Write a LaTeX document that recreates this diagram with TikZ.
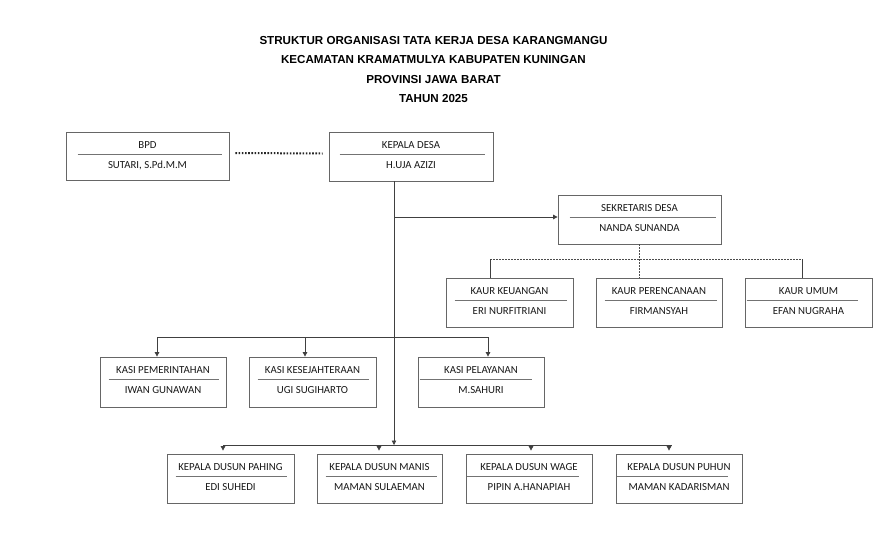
\documentclass[tikz,border=0pt]{standalone}
\usepackage{fontspec}
\setmainfont{Carlito}
\newfontfamily\titlefont{Liberation Sans}
\usetikzlibrary{arrows.meta,calc}
\newcommand\orgunit[9]{%
  \node[obox, minimum width={#4-#2}, minimum height={#5-#3}] (#1) at ({(#2+#4)/2},{(#3+#5)/2}) {};
  \node[otext] (#1-a) at ($(#1.north)+(0,16.5)$) {#8};
  \draw[sepline] ($(#1.north west)+(#6,23)$) -- ($(#1.north east)+(-#7,23)$);
  \node[otext] (#1-b) at ($(#1.north)+(0,36.5)$) {#9};
}
\begin{document}
\begin{tikzpicture}[x=1pt,y=-1pt,
  obox/.style={draw=black!60, line width=0.8pt, rectangle, inner sep=0pt},
  otext/.style={font=\fontsize{10.8}{12}\selectfont, text=black!90, inner sep=0pt, anchor=base},
  sepline/.style={draw=black!55, line width=0.8pt},
  conn/.style={draw=black!75, line width=0.8pt},
  arr/.style={conn, -{Triangle[length=4.5pt,width=4.5pt]}},
  dashln/.style={draw=black!70, line width=0.6pt, dash pattern=on 2pt off 1pt},
  dotln/.style={draw=black!85, line width=2pt, dash pattern=on 1.6pt off 1.6pt},
  ttl/.style={font=\titlefont\bfseries\fontsize{11.6}{13}\selectfont, text=black, inner sep=0pt, anchor=base}]
\useasboundingbox[fill=white] (0,0) rectangle (877,546);

% titles
\node[ttl] (t1) at (433.5,44) {STRUKTUR ORGANISASI TATA KERJA DESA KARANGMANGU};
\node[ttl] (t2) at (433.5,63.5) {KECAMATAN KRAMATMULYA KABUPATEN KUNINGAN};
\node[ttl] (t3) at (433.5,83) {PROVINSI JAWA BARAT};
\node[ttl] (t4) at (433.5,102) {TAHUN 2025};

% boxes
\orgunit{bpd}{66}{132}{229}{180}{12}{7}{BPD}{SUTARI, S.Pd.M.M}
\orgunit{kd}{329}{132}{493}{181}{11}{8}{KEPALA DESA}{H.UJA AZIZI}
\orgunit{sek}{558}{195}{721}{244}{12}{5}{SEKRETARIS DESA}{NANDA SUNANDA}
\orgunit{kk}{446}{278}{573}{327}{9}{6}{KAUR KEUANGAN}{ERI NURFITRIANI}
\orgunit{kp}{596}{278}{722}{327}{9}{5}{KAUR PERENCANAAN}{FIRMANSYAH}
\orgunit{ku}{745}{278}{872}{327}{2}{14}{KAUR UMUM}{EFAN NUGRAHA}
\orgunit{ks1}{100}{357}{226}{407}{9}{7}{KASI PEMERINTAHAN}{IWAN GUNAWAN}
\orgunit{ks2}{249}{357}{376}{407}{9}{7}{KASI KESEJAHTERAAN}{UGI SUGIHARTO}
\orgunit{ks3}{418}{357}{544}{407}{2}{12}{KASI PELAYANAN}{M.SAHURI}
\orgunit{d1}{167}{454}{294}{503}{9}{7}{KEPALA DUSUN PAHING}{EDI SUHEDI}
\orgunit{d2}{317}{454}{442}{503}{9}{5}{KEPALA DUSUN MANIS}{MAMAN SULAEMAN}
\orgunit{d3}{466}{454}{592}{503}{1}{13}{KEPALA DUSUN WAGE}{PIPIN A.HANAPIAH}
\orgunit{d4}{616}{454}{742}{503}{1}{14}{KEPALA DUSUN PUHUN}{MAMAN KADARISMAN}

% coordinates
\coordinate (tk) at (394,0);
\coordinate (dline) at (0,445);
\coordinate (a1) at (157,337);
\coordinate (a2) at (305,337);
\coordinate (a3) at (488,337);
\coordinate (b1) at (223,445);
\coordinate (b2) at (379,445);
\coordinate (b3) at (531,445);
\coordinate (b4) at (669,445);
\coordinate (b5) at (672,445);
\coordinate (c1) at (490,259);
\coordinate (c3) at (802,259);

% BPD - Kepala Desa
\draw[dotln] ($(bpd.east)+(6,-3)$) -- ($(kd.west)+(-6,-3)$);

% trunk
\draw[arr] (tk |- kd.south) -- (tk |- dline);
\draw[arr] ($(tk |- sek.west)+(0,-2.5)$) -- ($(sek.west)+(0,-2.5)$);

% sekretaris to kaur
\draw[dashln] (sek.south) -- (sek.south |- kp.north);
\draw[dashln] (c1) -- (c3);
\draw[conn, line width=0.6pt] (c1) -- (c1 |- kk.north);
\draw[conn, line width=0.6pt] (c3) -- (c3 |- ku.north);

% kasi row
\draw[conn] (a1) -- (a3);
\draw[arr] (a1) -- (a1 |- ks1.north);
\draw[arr] (a2) -- (a2 |- ks2.north);
\draw[arr] (a3) -- (a3 |- ks3.north);

% dusun row
\draw[conn] (b1) -- (b5);
\draw[arr, shorten >=3pt] (b1) -- (b1 |- d1.north);
\draw[arr, shorten >=3pt] (b2) -- (b2 |- d2.north);
\draw[arr, shorten >=3pt] (b3) -- (b3 |- d3.north);
\draw[arr, shorten >=3pt] (b4) -- (b4 |- d4.north);
\end{tikzpicture}
\end{document}
